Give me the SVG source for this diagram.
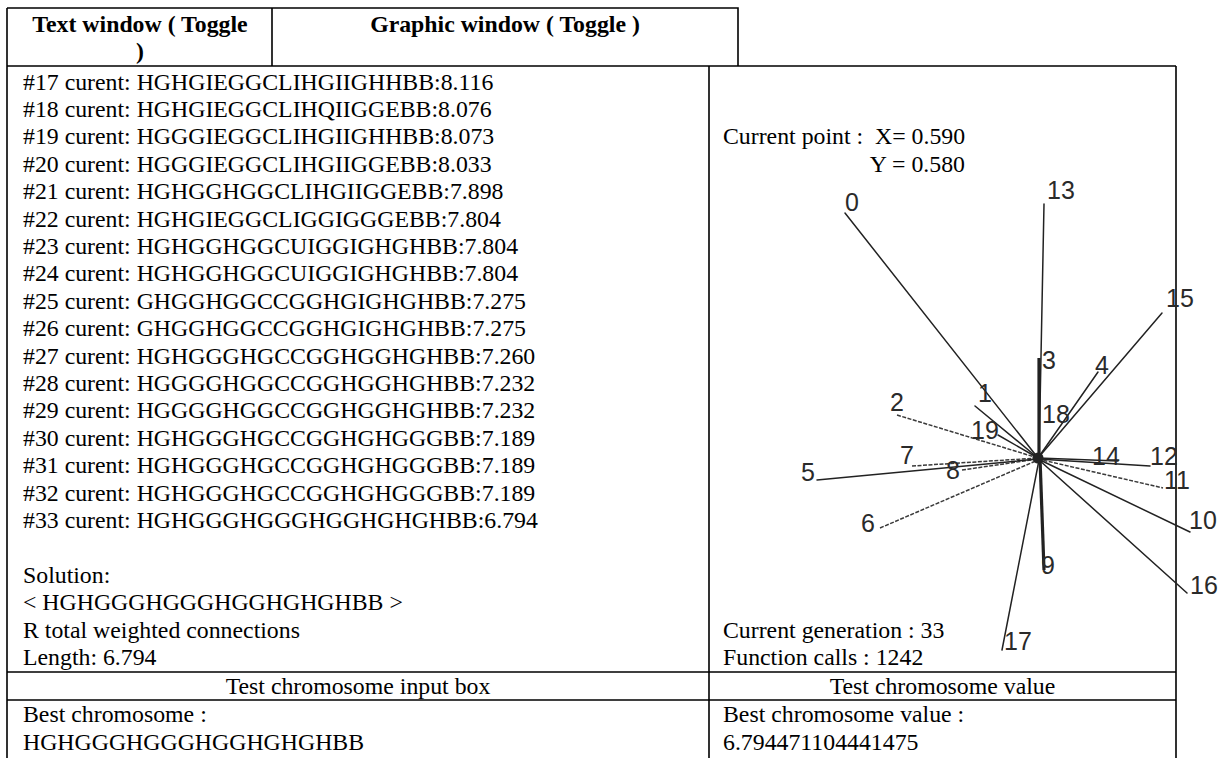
<svg xmlns="http://www.w3.org/2000/svg" width="1218" height="758" viewBox="0 0 1218 758">
<style>
  .t { font-family: "Liberation Serif", "Times New Roman", serif; font-size: 23.8px; fill: #000; }
  .h { font-family: "Liberation Serif", "Times New Roman", serif; font-size: 23.8px; font-weight: bold; fill: #000; }
  .c { text-anchor: middle; }
  .b { stroke: #000; stroke-width: 1.6; fill: none; }
  .e { stroke: #222; stroke-width: 1.5; fill: none; stroke-linecap: round; }
  .ed { stroke: #3a3a3a; stroke-width: 1.5; fill: none; stroke-dasharray: 4 1.5; }
  .ek { stroke: #222; stroke-width: 3.2; fill: none; }
  .lb { font-family: "Liberation Sans", Arial, sans-serif; font-size: 25px; fill: #2a2a2a; text-anchor: middle; }
</style>
<rect width="1218" height="758" fill="#fff"/>

<g id="table">
  <path class="b" d="M7 8 H738 V66 M272 8 V66 M7 8 V758 M7 66 H1176 M709 66 V758 M1176 66 V758 M7 672 H1176 M7 700 H1176"/>
</g>

<g id="header">
  <text class="h c" x="140" y="32">Text window ( Toggle</text>
  <text class="h c" x="140" y="59.4">)</text>
  <text class="h c" x="505" y="32">Graphic window ( Toggle )</text>
</g>

<g id="text-window">
  <text class="t" x="23" y="89.5">#17 curent: HGHGIEGGCLIHGIIGHHBB:8.116</text>
  <text class="t" x="23" y="116.9">#18 curent: HGHGIEGGCLIHQIIGGEBB:8.076</text>
  <text class="t" x="23" y="144.3">#19 curent: HGGGIEGGCLIHGIIGHHBB:8.073</text>
  <text class="t" x="23" y="171.7">#20 curent: HGGGIEGGCLIHGIIGGEBB:8.033</text>
  <text class="t" x="23" y="199.1">#21 curent: HGHGGHGGCLIHGIIGGEBB:7.898</text>
  <text class="t" x="23" y="226.5">#22 curent: HGHGIEGGCLIGGIGGGEBB:7.804</text>
  <text class="t" x="23" y="253.9">#23 curent: HGHGGHGGCUIGGIGHGHBB:7.804</text>
  <text class="t" x="23" y="281.3">#24 curent: HGHGGHGGCUIGGIGHGHBB:7.804</text>
  <text class="t" x="23" y="308.7">#25 curent: GHGGHGGCCGGHGIGHGHBB:7.275</text>
  <text class="t" x="23" y="336.1">#26 curent: GHGGHGGCCGGHGIGHGHBB:7.275</text>
  <text class="t" x="23" y="363.5">#27 curent: HGHGGGHGCCGGHGGHGHBB:7.260</text>
  <text class="t" x="23" y="390.9">#28 curent: HGGGGHGGCCGGHGGHGHBB:7.232</text>
  <text class="t" x="23" y="418.3">#29 curent: HGGGGHGGCCGGHGGHGHBB:7.232</text>
  <text class="t" x="23" y="445.7">#30 curent: HGHGGGHGCCGGHGHGGGBB:7.189</text>
  <text class="t" x="23" y="473.1">#31 curent: HGHGGGHGCCGGHGHGGGBB:7.189</text>
  <text class="t" x="23" y="500.5">#32 curent: HGHGGGHGCCGGHGHGGGBB:7.189</text>
  <text class="t" x="23" y="527.9">#33 curent: HGHGGGHGGGHGGHGHGHBB:6.794</text>
  <text class="t" x="23" y="582.7">Solution:</text>
  <text class="t" x="23" y="610.1">&lt; HGHGGGHGGGHGGHGHGHBB &gt;</text>
  <text class="t" x="23" y="637.5">R total weighted connections</text>
  <text class="t" x="23" y="664.9">Length: 6.794</text>
</g>

<g id="graphic-window-text">
  <text class="t" x="723" y="144.3" xml:space="preserve">Current point :  X= 0.590</text>
  <text class="t" x="965" y="171.7" text-anchor="end">Y = 0.580</text>
  <text class="t" x="723" y="637.5">Current generation : 33</text>
  <text class="t" x="723" y="664.9">Function calls : 1242</text>
</g>

<g id="bottom-rows">
  <text class="t c" x="358" y="694">Test chromosome input box</text>
  <text class="t c" x="942.5" y="694">Test chromosome value</text>
  <text class="t" x="23" y="722">Best chromosome :</text>
  <text class="t" x="23" y="749.5">HGHGGGHGGGHGGHGHGHBB</text>
  <text class="t" x="723" y="722">Best chromosome value :</text>
  <text class="t" x="723" y="749.5">6.794471104441475</text>
</g>

<g id="connectors">
  <line class="e" x1="845" y1="213" x2="1038" y2="458"/>
  <line class="e" x1="975" y1="406" x2="1038" y2="458"/>
  <line class="ed" x1="897" y1="415" x2="1038" y2="458"/>
  <line class="ek" x1="1039" y1="358" x2="1039" y2="458"/>
  <line class="e" x1="1098" y1="372" x2="1038" y2="458"/>
  <line class="e" x1="1044" y1="204" x2="1039" y2="458"/>
  <line class="e" x1="1162" y1="313" x2="1038" y2="458"/>
  <line class="e" x1="998" y1="435" x2="1038" y2="458"/>
  <line class="ed" x1="912" y1="466" x2="1038" y2="458"/>
  <line class="ed" x1="962" y1="470" x2="1038" y2="459"/>
  <line class="e" x1="817" y1="480" x2="1038" y2="459"/>
  <line class="ed" x1="880" y1="528" x2="1038" y2="460"/>
  <line class="e" x1="1038" y1="459" x2="1150" y2="466"/>
  <line class="e" x1="1038" y1="458" x2="1118" y2="461"/>
  <line class="ed" x1="1038" y1="459" x2="1163" y2="488"/>
  <line class="e" x1="1038" y1="459" x2="1190" y2="532"/>
  <line class="e" x1="1038" y1="459" x2="1187" y2="593"/>
  <line class="ek" x1="1040" y1="458" x2="1044" y2="570"/>
  <line class="e" x1="1039" y1="460" x2="1002" y2="650"/>
  <circle cx="1038" cy="458" r="5.5" fill="#222"/>
</g>

<g id="nodes">
  <g id="node-0"><text class="lb" x="852" y="211">0</text></g>
  <g id="node-1"><text class="lb" x="985" y="402">1</text></g>
  <g id="node-2"><text class="lb" x="897" y="411">2</text></g>
  <g id="node-3"><text class="lb" x="1049" y="369">3</text></g>
  <g id="node-4"><text class="lb" x="1102" y="374">4</text></g>
  <g id="node-5"><text class="lb" x="808" y="481">5</text></g>
  <g id="node-6"><text class="lb" x="868" y="532">6</text></g>
  <g id="node-7"><text class="lb" x="907" y="464">7</text></g>
  <g id="node-8"><text class="lb" x="953" y="479">8</text></g>
  <g id="node-9"><text class="lb" x="1048" y="574">9</text></g>
  <g id="node-10"><text class="lb" x="1203" y="529">10</text></g>
  <g id="node-11"><text class="lb" x="1177" y="489">11</text></g>
  <g id="node-12"><text class="lb" x="1164" y="465">12</text></g>
  <g id="node-13"><text class="lb" x="1061" y="199">13</text></g>
  <g id="node-14"><text class="lb" x="1106" y="465">14</text></g>
  <g id="node-15"><text class="lb" x="1180" y="307">15</text></g>
  <g id="node-16"><text class="lb" x="1204" y="594">16</text></g>
  <g id="node-17"><text class="lb" x="1018" y="650">17</text></g>
  <g id="node-18"><text class="lb" x="1056" y="423">18</text></g>
  <g id="node-19"><text class="lb" x="985" y="439">19</text></g>
</g>
</svg>
